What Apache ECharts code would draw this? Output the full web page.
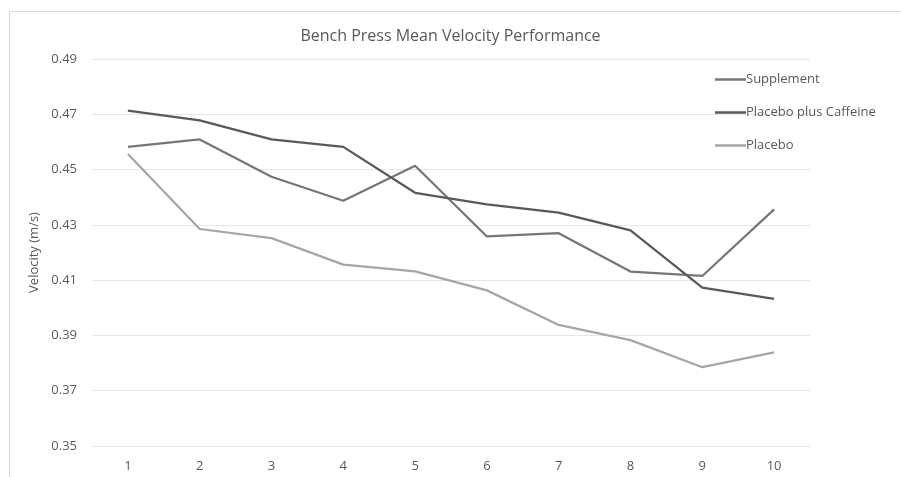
<!DOCTYPE html>
<html>
<head>
<meta charset="utf-8">
<script src="https://cdn.jsdelivr.net/npm/echarts@6/dist/echarts.min.js"></script>
<style>html,body{margin:0;padding:0;background:#fff;}#c{width:901px;height:477px;}</style>
</head>
<body>
<div id="c"></div>
<script>
const categories = ['1','2','3','4','5','6','7','8','9','10'];
const supplement = [0.4582,0.4609,0.4474,0.4387,0.4514,0.4258,0.4270,0.4131,0.4115,0.4356];
const placeboCaffeine = [0.4713,0.4678,0.4609,0.4582,0.4416,0.4374,0.4344,0.4280,0.4073,0.4032];
const placebo = [0.4556,0.4285,0.4252,0.4156,0.4132,0.4063,0.3938,0.3883,0.3785,0.3839];
const yTicks = {min:0.35, max:0.49, interval:0.02};

const chart = echarts.init(document.getElementById('c'));
const font = '"Open Sans", "Liberation Sans", sans-serif';
chart.setOption({
  animation:false,
  backgroundColor:'#fff',
  textStyle:{fontFamily:font},
  graphic:[{type:'rect',shape:{x:9.5,y:11.5,width:1000,height:1000},style:{fill:'none',stroke:'#d9d9d9',lineWidth:1},silent:true}],
  title:{text:'Bench Press Mean Velocity Performance',left:'center',top:23,
    textStyle:{fontFamily:font,fontSize:16,fontWeight:'normal',color:'#595959'}},
  legend:{orient:'vertical',left:710,top:66,icon:'rect',itemWidth:31,itemHeight:2.5,itemGap:16,
    textStyle:{fontFamily:font,fontSize:13,color:'#595959',padding:[0,0,0,-5],height:17,lineHeight:17},
    data:['Supplement','Placebo plus Caffeine','Placebo']},
  grid:{left:92,right:91,top:59,bottom:31,containLabel:false},
  xAxis:{type:'category',data:categories,boundaryGap:true,
    axisLine:{show:false},axisTick:{show:false},
    axisLabel:{color:'#595959',fontSize:13,margin:14,fontFamily:font}},
  yAxis:{type:'value',min:yTicks.min,max:yTicks.max,interval:yTicks.interval,
    name:'Velocity (m/s)',nameLocation:'middle',nameGap:50,nameRotate:90,
    nameTextStyle:{color:'#595959',fontSize:13,fontFamily:font},
    axisLine:{show:false},axisTick:{show:false},
    axisLabel:{color:'#595959',fontSize:13,margin:15,fontFamily:font,formatter:v=>v.toFixed(2)},
    splitLine:{lineStyle:{color:'#e6e6e6',width:1}}},
  series:[
    {name:'Supplement',type:'line',data:supplement,symbol:'none',lineStyle:{color:'#767676',width:2.25},itemStyle:{color:'#767676'}},
    {name:'Placebo plus Caffeine',type:'line',data:placeboCaffeine,symbol:'none',lineStyle:{color:'#595959',width:2.25},itemStyle:{color:'#595959'}},
    {name:'Placebo',type:'line',data:placebo,symbol:'none',lineStyle:{color:'#a6a6a6',width:2.25},itemStyle:{color:'#a6a6a6'}}
  ]
});
</script>
</body>
</html>
